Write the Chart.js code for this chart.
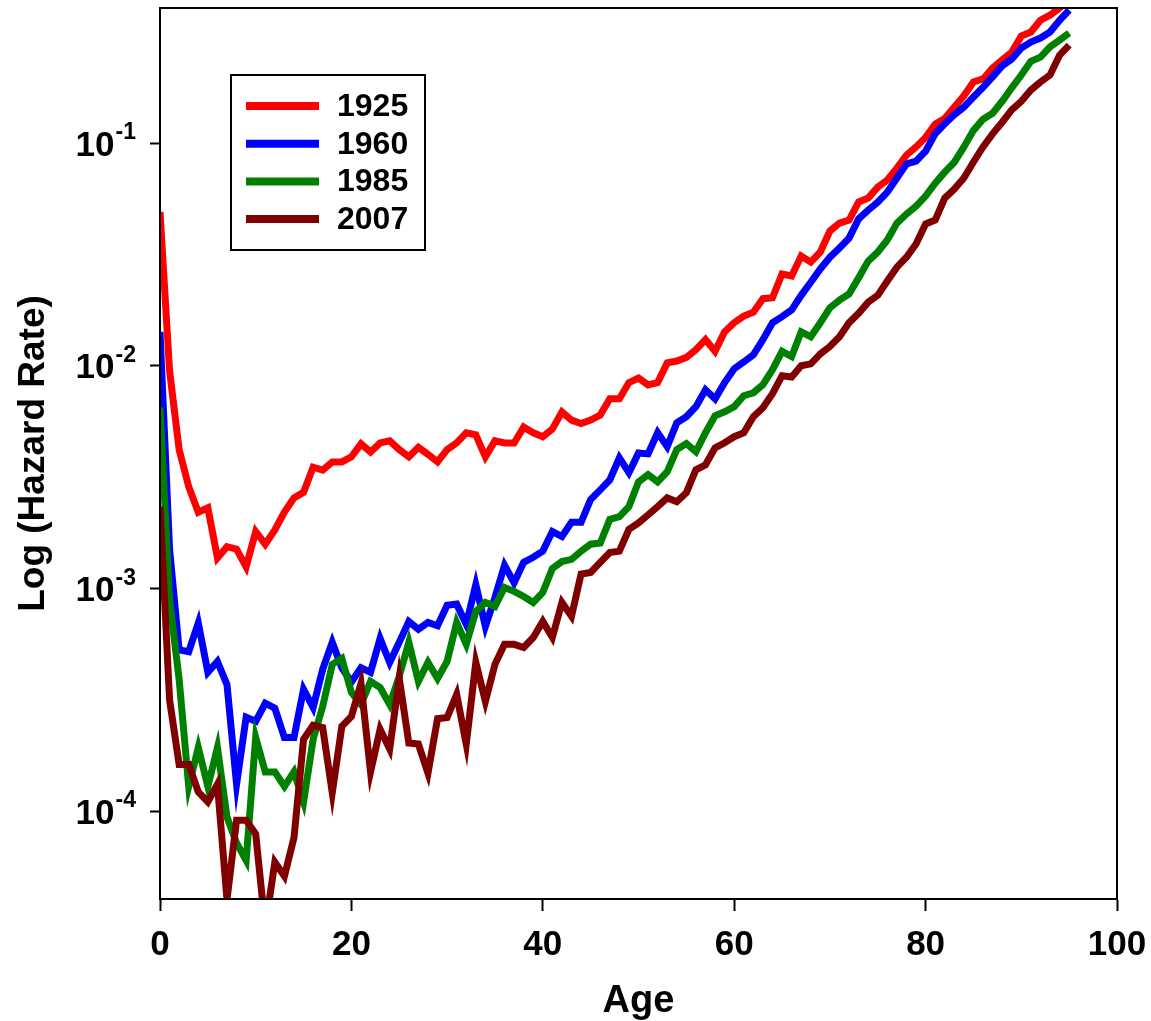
<!DOCTYPE html>
<html>
<head>
<meta charset="utf-8">
<script src="https://cdn.jsdelivr.net/npm/chart.js@4.4.1/dist/chart.umd.min.js"></script>
<style>
    html, body { margin: 0; padding: 0; background: #fff; }
    #wrap { width: 1151px; height: 1021px; }
</style>
</head>
<body>
<div id="wrap"><canvas id="hazardChart" width="1151" height="1021"></canvas></div>
<script>

// ages 0..95
const ages = [
    0, 1, 2, 3, 4, 5, 6, 7, 8, 9, 10, 11, 12, 13, 14, 15, 16, 17, 18, 19,
    20, 21, 22, 23, 24, 25, 26, 27, 28, 29, 30, 31, 32, 33, 34, 35, 36, 37, 38, 39,
    40, 41, 42, 43, 44, 45, 46, 47, 48, 49, 50, 51, 52, 53, 54, 55, 56, 57, 58, 59,
    60, 61, 62, 63, 64, 65, 66, 67, 68, 69, 70, 71, 72, 73, 74, 75, 76, 77, 78, 79,
    80, 81, 82, 83, 84, 85, 86, 87, 88, 89, 90, 91, 92, 93, 94, 95
];

const rate1925 = [
    0.049, 0.0095, 0.0042, 0.00286, 0.0022, 0.0023, 0.00137, 0.00154, 0.0015, 0.00125,
    0.0018, 0.00158, 0.00183, 0.0022, 0.00255, 0.0027, 0.0035, 0.0034, 0.0037, 0.0037,
    0.0039, 0.00446, 0.0041, 0.0045, 0.0046, 0.0042, 0.0039, 0.0043, 0.0040, 0.0037,
    0.0042, 0.0045, 0.0050, 0.0049, 0.0039, 0.0046, 0.0045, 0.0045, 0.0053, 0.0050,
    0.0048, 0.0052, 0.0062, 0.0057, 0.0055, 0.0057, 0.0060, 0.0071, 0.0071, 0.0084,
    0.0088, 0.0082, 0.0084, 0.0103, 0.0105, 0.0109, 0.0118, 0.0131, 0.0116, 0.0142,
    0.0156, 0.0167, 0.0174, 0.0200, 0.0202, 0.0258, 0.0253, 0.0311, 0.0292, 0.0324,
    0.0403, 0.0437, 0.0451, 0.0543, 0.0566, 0.0634, 0.0682, 0.0772, 0.0883, 0.096,
    0.106, 0.1216, 0.129, 0.145, 0.163, 0.188, 0.194, 0.217, 0.236, 0.256,
    0.302, 0.315, 0.356, 0.375, 0.404, 0.44
];

const rate1960 = [
    0.0142, 0.0015, 0.00053, 0.00052, 0.0007, 0.00042, 0.00047, 0.00037, 0.000132, 0.000264,
    0.000253, 0.000305, 0.00029, 0.000214, 0.000214, 0.000352, 0.000292, 0.000433, 0.000573, 0.00044,
    0.00038, 0.00044, 0.00042, 0.000596, 0.000465, 0.000573, 0.00071, 0.000655, 0.000703, 0.00068,
    0.00084, 0.00085, 0.00069, 0.00104, 0.000675, 0.00091, 0.00127, 0.00106, 0.00131, 0.00138,
    0.00147, 0.0018, 0.00171, 0.00198, 0.00198, 0.00251, 0.00277, 0.00307, 0.00386, 0.00331,
    0.00406, 0.00402, 0.00501, 0.00433, 0.00554, 0.0059, 0.00655, 0.0078, 0.0071, 0.0084,
    0.0097, 0.0104, 0.0112, 0.0131, 0.0156, 0.0166, 0.0178, 0.0207, 0.0237, 0.0272,
    0.0307, 0.0338, 0.0374, 0.0456, 0.050, 0.0543, 0.0602, 0.0697, 0.0805, 0.083,
    0.092, 0.11, 0.122, 0.134, 0.145, 0.161, 0.178, 0.198, 0.222, 0.238,
    0.267, 0.284, 0.296, 0.315, 0.356, 0.395
];

const rate1985 = [
    0.0065, 0.00089, 0.00039, 0.000129, 0.000193, 0.000129, 0.000193, 0.000094, 0.000072, 0.00006,
    0.000214, 0.00015, 0.00015, 0.000129, 0.00015, 0.00011, 0.00021, 0.000295, 0.000456, 0.000485,
    0.000341, 0.000301, 0.000382, 0.000359, 0.000301, 0.000403, 0.000573, 0.000382, 0.000466, 0.000394,
    0.00047, 0.000703, 0.000561, 0.000788, 0.000865, 0.00083, 0.00101, 0.00097, 0.00092, 0.000865,
    0.00096, 0.00123, 0.00132, 0.00135, 0.00147, 0.00158, 0.0016, 0.00204, 0.0021, 0.00233,
    0.00301, 0.00324, 0.00301, 0.00334, 0.0042, 0.00447, 0.00411, 0.005, 0.00596, 0.00621,
    0.00655, 0.00733, 0.00756, 0.00822, 0.0096, 0.0116, 0.011, 0.0142, 0.0135, 0.0156,
    0.0182, 0.0197, 0.021, 0.0248, 0.0295, 0.0324, 0.0367, 0.0437, 0.048, 0.0521,
    0.0578, 0.066, 0.074, 0.082, 0.096, 0.114, 0.128, 0.136, 0.154, 0.177,
    0.202, 0.233, 0.243, 0.27, 0.29, 0.312
];

const rate2007 = [
    0.00233, 0.000316, 0.000162, 0.000162, 0.000122, 0.00011, 0.000132, 0.00004, 0.000091, 0.000091,
    0.000079, 0.00003, 0.000059, 0.000051, 0.000076, 0.00021, 0.000243, 0.000237, 0.000121, 0.00024,
    0.000266, 0.000374, 0.00015, 0.000233, 0.00019, 0.000394, 0.000202, 0.0002, 0.000148, 0.00026,
    0.000263, 0.000334, 0.0002, 0.000465, 0.000311, 0.000456, 0.000561, 0.000561, 0.000543, 0.000602,
    0.000711, 0.000602, 0.000865, 0.00075, 0.00116, 0.00118, 0.00131, 0.00145, 0.00147, 0.00184,
    0.00197, 0.00214, 0.00233, 0.00255, 0.00245, 0.00269, 0.00341, 0.00359, 0.00428, 0.00451,
    0.0048, 0.005, 0.0059, 0.00647, 0.00749, 0.00902, 0.0089, 0.010, 0.0102, 0.0113,
    0.0122, 0.0135, 0.0156, 0.0172, 0.0193, 0.0207, 0.024, 0.0277, 0.0307, 0.0352,
    0.0433, 0.0451, 0.0566, 0.0621, 0.0697, 0.0822, 0.096, 0.11, 0.124, 0.141,
    0.154, 0.173, 0.188, 0.202, 0.248, 0.275
];

const seriesLabels = ["1925", "1960", "1985", "2007"];
const seriesColors = ["#ff0000", "#0000ff", "#008000", "#800000"];

const yTickValues = [1e-4, 1e-3, 1e-2, 1e-1];
const yTickExponents = ["-4", "-3", "-2", "-1"];

const FONT = "'Liberation Sans', Arial, sans-serif";

const toPoints = (vals) => vals.map((v, i) => ({ x: ages[i], y: v }));

// box around the plot, legend box, 10^n tick labels
const decorPlugin = {
    id: "decor",
    afterDraw(chart) {
        const { ctx, chartArea: a } = chart;
        const yScale = chart.scales.y;

        ctx.save();

        ctx.strokeStyle = "#000";
        ctx.lineWidth = 2;
        ctx.strokeRect(a.left, a.top, a.right - a.left, a.bottom - a.top);

        // y tick labels: 10 with superscript exponent
        ctx.fillStyle = "#000";
        ctx.textBaseline = "middle";
        ctx.textAlign = "right";
        yTickValues.forEach((v, i) => {
            const py = yScale.getPixelForValue(v);
            ctx.font = "bold 23px " + FONT;
            const supW = ctx.measureText(yTickExponents[i]).width;
            ctx.fillText(yTickExponents[i], 136, py - 10);
            ctx.font = "bold 35px " + FONT;
            ctx.fillText("10", 136 - supW - 1, py + 3);
        });

        // legend
        ctx.strokeStyle = "#000";
        ctx.lineWidth = 2;
        ctx.strokeRect(231, 75, 194, 175);
        chart.data.datasets.forEach((ds, i) => {
            const ly = 106 + i * 37.7;
            ctx.strokeStyle = ds.borderColor;
            ctx.lineWidth = 8;
            ctx.beginPath();
            ctx.moveTo(246, ly);
            ctx.lineTo(319, ly);
            ctx.stroke();
            ctx.fillStyle = "#000";
            ctx.textAlign = "left";
            ctx.font = "bold 32px " + FONT;
            ctx.fillText(ds.label, 337, ly + 1);
        });

        ctx.restore();
    }
};

const allRates = [rate1925, rate1960, rate1985, rate2007];

new Chart(document.getElementById("hazardChart"), {

    type: "line",

    data: {
        datasets: allRates.map((vals, i) => ({
            label: seriesLabels[i],
            data: toPoints(vals),
            borderColor: seriesColors[i],
            backgroundColor: seriesColors[i],
            borderWidth: 7,
            pointRadius: 0,
            tension: 0,
            fill: false,
            order: allRates.length - i   // later years drawn on top
        }))
    },

    options: {
        responsive: false,
        animation: false,
        devicePixelRatio: 1,
        layout: { padding: { left: 0, top: 8, right: 34, bottom: 0 } },
        plugins: {
            legend: { display: false },
            tooltip: { enabled: false }
        },
        scales: {
            x: {
                type: "linear",
                min: 0,
                max: 100,
                afterFit: (s) => {
                    s.height = 122;
                    s.paddingLeft = 0;
                    s.paddingRight = 0;
                },
                ticks: {
                    stepSize: 20,
                    color: "#000",
                    padding: 13,
                    font: { family: FONT, size: 35, weight: "bold" }
                },
                grid: {
                    display: true,
                    drawOnChartArea: false,
                    drawTicks: true,
                    tickLength: 12,
                    tickWidth: 2,
                    color: "#000"
                },
                border: { display: true, color: "#000", width: 2 },
                title: {
                    display: true,
                    text: "Age",
                    color: "#000",
                    padding: { top: 0, bottom: 0 },
                    font: { family: FONT, size: 38, weight: "bold", lineHeight: 1 }
                }
            },
            y: {
                type: "logarithmic",
                min: 4.03e-5,
                max: 0.404,
                afterFit: (s) => {
                    s.width = 160;
                    s.paddingTop = 0;
                    s.paddingBottom = 0;
                },
                afterBuildTicks: (s) => { s.ticks = yTickValues.map(v => ({ value: v, major: true })); },
                ticks: { display: false },
                grid: {
                    display: true,
                    drawOnChartArea: false,
                    drawTicks: true,
                    tickLength: 10,
                    tickWidth: 2,
                    color: "#000"
                },
                border: { display: true, color: "#000", width: 2 },
                title: {
                    display: true,
                    text: "Log (Hazard Rate)",
                    color: "#000",
                    padding: { top: 15, bottom: 0 },
                    font: { family: FONT, size: 37, weight: "bold", lineHeight: 1 }
                }
            }
        }
    },

    plugins: [decorPlugin]

});

</script>
</body>
</html>
